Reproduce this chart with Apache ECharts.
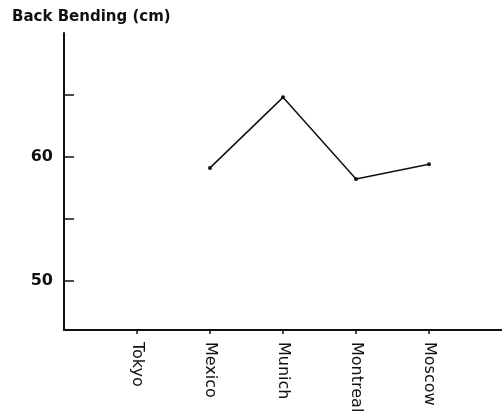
<!DOCTYPE html>
<html>
<head>
<meta charset="utf-8">
<script src="https://cdn.jsdelivr.net/npm/echarts@6/dist/echarts.min.js"></script>
<style>
  html, body { margin: 0; padding: 0; background: #fff; }
  #chart { width: 502px; height: 416px; }
</style>
</head>
<body>
<div id="chart"></div>
<script>
// 数据
var cities = ["", "Tokyo", "Mexico", "Munich", "Montreal", "Moscow", ""];
var backBending = [null, null, 59.1, 64.8, 58.2, 59.4, null];
var yTicks = [50, 55, 60, 65];
var yLabels = [50, 60];

(function() {
  var myChart = echarts.init(document.getElementById("chart"));
  var font = "DejaVu Sans";
  var option = {
    animation: false,
    title: {
      text: "Back Bending (cm)",
      left: 7,
      top: 5,
      textStyle: {
        fontFamily: font,
        fontSize: 15,
        fontWeight: "bold",
        color: "#111"
      }
    },
    grid: {
      left: 64,
      right: 0,
      top: 33,
      bottom: 86
    },
    xAxis: {
      type: "category",
      boundaryGap: false,
      data: cities,
      min: 0,
      max: 5.945,
      axisLine: {
        lineStyle: { color: "#111", width: 2 }
      },
      axisTick: {
        show: true,
        length: 4,
        interval: function(index, value) {
          return value !== "";
        },
        lineStyle: { color: "#111", width: 1.5 }
      },
      axisLabel: {
        rotate: -90,
        interval: 0,
        margin: 12,
        color: "#111",
        fontFamily: font,
        fontSize: 16
      },
      splitLine: { show: false }
    },
    yAxis: {
      type: "value",
      min: 46,
      max: 70,
      axisLine: {
        show: true,
        lineStyle: { color: "#111", width: 2 }
      },
      axisTick: {
        show: true,
        inside: true,
        length: 10,
        customValues: yTicks,
        lineStyle: { color: "#111", width: 1.5 }
      },
      axisLabel: {
        customValues: yLabels,
        margin: 11,
        color: "#111",
        fontFamily: font,
        fontSize: 16,
        fontWeight: "bold"
      },
      splitLine: { show: false }
    },
    series: [
      {
        name: "Back Bending",
        type: "line",
        data: backBending,
        connectNulls: false,
        symbol: "circle",
        symbolSize: 4,
        itemStyle: { color: "#111" },
        lineStyle: { color: "#111", width: 1.5 }
      }
    ]
  };
  myChart.setOption(option);
  window.addEventListener("resize", function() {
    myChart.resize();
  });
})();
</script>
</body>
</html>
